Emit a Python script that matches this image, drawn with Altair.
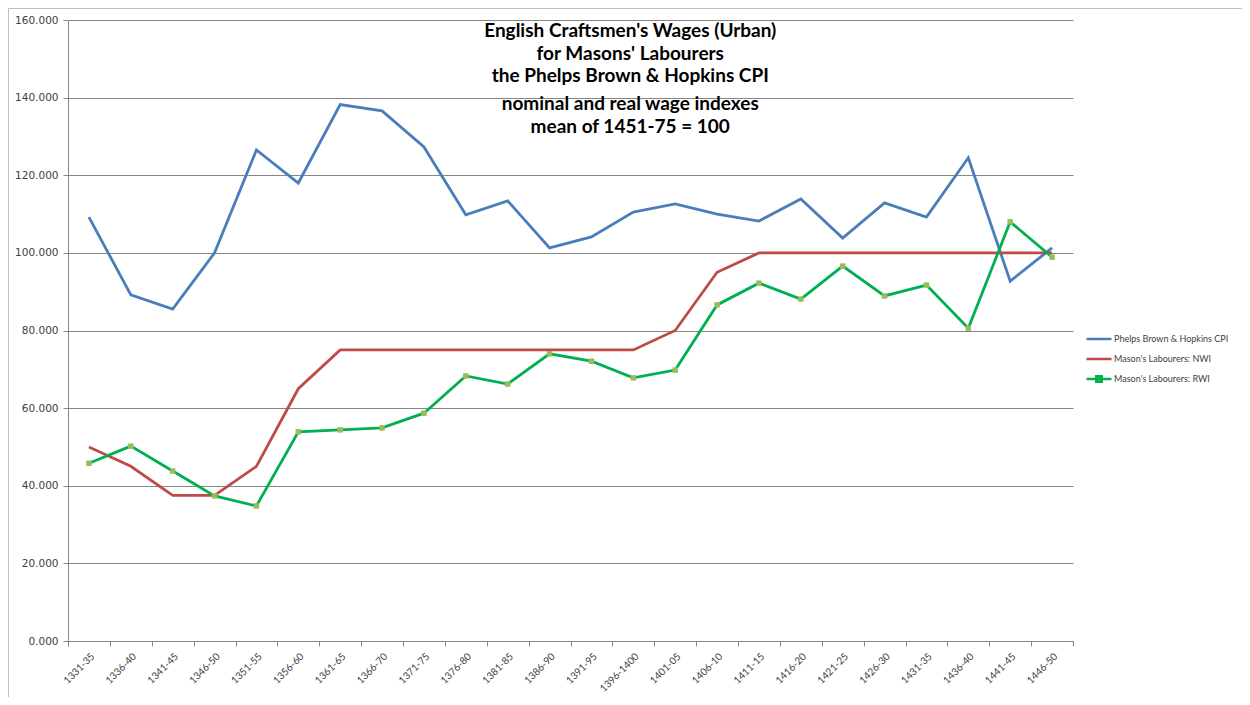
import altair as alt
import pandas as pd

periods = ["1331-35", "1336-40", "1341-45", "1346-50", "1351-55", "1356-60", "1361-65",
           "1366-70", "1371-75", "1376-80", "1381-85", "1386-90", "1391-95", "1396-1400",
           "1401-05", "1406-10", "1411-15", "1416-20", "1421-25", "1426-30", "1431-35",
           "1436-40", "1441-45", "1446-50"]

cpi = [109.2, 89.2, 85.5, 100.0, 126.5, 118.0, 138.2, 136.6, 127.3, 109.8, 113.4, 101.3,
       104.1, 110.5, 112.6, 110.0, 108.2, 113.9, 103.8, 112.9, 109.2, 124.5, 92.7, 101.3]
nwi = [50.0, 45.0, 37.5, 37.5, 45.0, 65.0, 75.0, 75.0, 75.0, 75.0, 75.0, 75.0,
       75.0, 75.0, 80.0, 95.0, 100.0, 100.0, 100.0, 100.0, 100.0, 100.0, 100.0, 100.0]
rwi = [45.8, 50.2, 43.8, 37.4, 34.8, 53.9, 54.4, 54.9, 58.7, 68.3, 66.2, 74.0,
       72.1, 67.8, 69.8, 86.6, 92.2, 88.1, 96.6, 88.9, 91.7, 80.6, 108.0, 98.9]

series_names = ["Phelps Brown & Hopkins CPI", "Mason's Labourers: NWI", "Mason's Labourers: RWI"]
series_colors = ["#4A7EBB", "#BE4B48", "#00B050"]
marker_color = "#9BBB59"

title_lines = ["English Craftsmen's Wages (Urban)", "for Masons' Labourers", "the Phelps Brown & Hopkins CPI"]
subtitle_lines = ["nominal and real wage indexes", "mean of 1451-75 = 100"]

rows = []
for name, vals in zip(series_names, [cpi, nwi, rwi]):
    for p, v in zip(periods, vals):
        rows.append({"period": p, "value": v, "series": name})
df = pd.DataFrame(rows)

FONT = "Lato"

x_enc = alt.X("period:N", sort=periods, bandPosition=0.5,
              scale=alt.Scale(type="band", paddingInner=0, paddingOuter=0),
              axis=alt.Axis(title=None, labelAngle=-45, labelFontSize=10, labelColor="#404040",
                            labelFont=FONT,
                            tickBand="extent", tickSize=5, tickColor="#868686",
                            domainColor="#868686", grid=False, labelPadding=5))
y_enc = alt.Y("value:Q", scale=alt.Scale(domain=[0, 160], nice=False),
              axis=alt.Axis(title=None, values=[0, 20, 40, 60, 80, 100, 120, 140, 160],
                            format=".3f", labelFontSize=10.5, labelColor="#404040",
                            labelFont="DejaVu Sans",
                            tickSize=5, tickColor="#868686", domainColor="#868686",
                            gridColor="#868686", gridWidth=1, labelPadding=5))

rwi_symbol = "M-1,0H1M-0.22,-0.22H0.22V0.22H-0.22Z"
color_enc = alt.Color("series:N", sort=series_names,
                      scale=alt.Scale(domain=series_names, range=series_colors),
                      legend=alt.Legend(title=None, orient="none", legendX=1017, legendY=305,
                                        symbolType=alt.ExprRef("datum.index == 2 ? '" + rwi_symbol + "' : 'stroke'"),
                                        symbolFillColor=alt.ExprRef("datum.index == 2 ? '" + marker_color + "' : 'transparent'"),
                                        symbolSize=625, symbolStrokeWidth=2.5,
                                        labelFontSize=9, labelColor="#404040", rowPadding=1,
                                        labelOffset=1))

lines = alt.Chart(df).mark_line(strokeWidth=2.8).encode(x=x_enc, y=y_enc, color=color_enc)

points = alt.Chart(df[df["series"] == series_names[2]]).mark_point(
    shape="square", filled=True, size=30, color=marker_color, opacity=1
).encode(x=x_enc, y=y_enc)

border = alt.Chart(pd.DataFrame({"k": [0]})).mark_rule(color="#BFBFBF", strokeWidth=1).encode(
    x=alt.value(-59.5), x2=alt.value(1180), y=alt.value(-11.5))
border_left = alt.Chart(pd.DataFrame({"k": [0]})).mark_rule(color="#BFBFBF", strokeWidth=1).encode(
    x=alt.value(-59.5), y=alt.value(-11.5), y2=alt.value(690))

chart = alt.layer(lines, points, border, border_left).properties(
    width=1005, height=621,
    padding={"left": 60, "top": 12, "right": 169, "bottom": 56},
    autosize=alt.AutoSizeParams(type="none"),
    title=alt.TitleParams(text=title_lines, subtitle=subtitle_lines, anchor="middle", frame="bounds",
                          orient="top", offset=-129, dx=2, font=FONT, fontSize=19, fontWeight="bold",
                          color="#000000", lineHeight=22.5, subtitleFont=FONT, subtitleFontSize=19,
                          subtitleFontWeight="bold", subtitleColor="#000000", subtitleLineHeight=23,
                          subtitlePadding=9)
).configure_view(stroke=None).configure_legend(labelFont=FONT)

chart.save("out.html", embed_options={"renderer": "svg", "actions": False})
